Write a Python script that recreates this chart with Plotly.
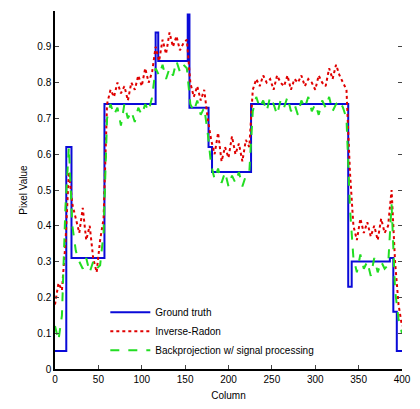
import plotly.graph_objects as go

# Ground truth breakpoints (piecewise constant)
gt_x = [0, 13, 19, 57, 116, 119, 153, 155, 177, 181, 226, 338, 342, 386, 390, 394, 400]
gt_y = [0.05, 0.62, 0.31, 0.74, 0.94, 0.86, 0.99, 0.73, 0.62, 0.55, 0.74, 0.23, 0.30, 0.31, 0.16, 0.05, 0.05]

# Reconstructions sampled every 4 columns
cols = list(range(0, 401, 4))
red_y = [0.18, 0.24, 0.22, 0.35, 0.55, 0.46, 0.42, 0.38, 0.45, 0.36,
         0.40, 0.31, 0.27, 0.36, 0.42, 0.74, 0.78, 0.76, 0.80, 0.77,
         0.79, 0.75, 0.80, 0.78, 0.82, 0.79, 0.84, 0.80, 0.83, 0.90,
         0.86, 0.92, 0.88, 0.94, 0.90, 0.93, 0.89, 0.91, 0.92, 0.80,
         0.76, 0.79, 0.75, 0.78, 0.70, 0.64, 0.60, 0.66, 0.58, 0.62,
         0.59, 0.65, 0.60, 0.63, 0.58, 0.64, 0.62, 0.78, 0.81, 0.79,
         0.82, 0.80, 0.81, 0.78, 0.82, 0.80, 0.79, 0.82, 0.78, 0.81,
         0.80, 0.82, 0.79, 0.81, 0.80, 0.78, 0.82, 0.80, 0.79, 0.84,
         0.81, 0.85, 0.82, 0.80, 0.78, 0.55, 0.40, 0.36, 0.42, 0.38,
         0.41, 0.37, 0.40, 0.36, 0.42, 0.38, 0.40, 0.50, 0.30, 0.18,
         0.12]
green_y = [0.12, 0.08, 0.15, 0.45, 0.62, 0.40, 0.33, 0.30, 0.28, 0.31,
           0.27, 0.30, 0.28, 0.29, 0.38, 0.70, 0.74, 0.71, 0.73, 0.68,
           0.74, 0.70, 0.72, 0.69, 0.73, 0.71, 0.74, 0.72, 0.76, 0.84,
           0.82, 0.85, 0.81, 0.84, 0.82, 0.86, 0.83, 0.85, 0.84, 0.74,
           0.72, 0.75, 0.71, 0.73, 0.66, 0.57, 0.53, 0.56, 0.52, 0.55,
           0.51, 0.54, 0.52, 0.55, 0.51, 0.54, 0.55, 0.72, 0.76, 0.73,
           0.75, 0.72, 0.76, 0.74, 0.71, 0.75, 0.73, 0.76, 0.72, 0.74,
           0.71, 0.75, 0.73, 0.76, 0.72, 0.74, 0.71, 0.75, 0.73, 0.76,
           0.72, 0.74, 0.75, 0.73, 0.70, 0.45, 0.31, 0.27, 0.32, 0.28,
           0.30, 0.26, 0.31, 0.27, 0.30, 0.28, 0.29, 0.46, 0.22, 0.14,
           0.10]

names = ["Ground truth", "Inverse-Radon", "Backprojection w/ signal processing"]
x_ticks = [0, 50, 100, 150, 200, 250, 300, 350, 400]
y_ticks = [0, 0.1, 0.2, 0.3, 0.4, 0.5, 0.6, 0.7, 0.8, 0.9]
y_tick_text = ["0", "0.1", "0.2", "0.3", "0.4", "0.5", "0.6", "0.7", "0.8", "0.9"]

fig = go.Figure()
fig.add_trace(go.Scatter(x=gt_x, y=gt_y, mode="lines", line_shape="hv",
                         line=dict(color="#0a0ad8", width=2), name=names[0]))
fig.add_trace(go.Scatter(x=cols, y=red_y, mode="lines",
                         line=dict(color="#e00000", width=2, dash="dot"), name=names[1]))
fig.add_trace(go.Scatter(x=cols, y=green_y, mode="lines",
                         line=dict(color="#22dd22", width=2, dash="dash"), name=names[2]))
fig.add_trace(go.Scatter(x=[], y=[], yaxis="y2", showlegend=False, hoverinfo="skip"))

font = dict(family="Liberation Sans, Arial, sans-serif", size=10, color="black")
fig.update_layout(
    width=420, height=409,
    margin=dict(l=55, r=9, t=11, b=37),
    paper_bgcolor="white", plot_bgcolor="white",
    font=font,
    showlegend=True,
    legend=dict(x=0.145, y=0.012, xanchor="left", yanchor="bottom",
                bgcolor="rgba(0,0,0,0)", font=dict(size=10, family=font["family"]),
                tracegroupgap=0, itemwidth=40),
    xaxis=dict(range=[0, 400], tickvals=x_ticks, ticks="inside", ticklen=4,
               showline=True, linecolor="black", linewidth=1.5, showgrid=False,
               zeroline=False, title=dict(text="Column", standoff=8,
                                          font=dict(size=10))),
    yaxis=dict(range=[0, 1.0], tickvals=y_ticks, ticktext=y_tick_text, ticks="inside",
               ticklen=4, showline=True, linecolor="black", linewidth=1.5,
               showgrid=False, zeroline=False,
               title=dict(text="Pixel Value", standoff=8, font=dict(size=10))),
    yaxis2=dict(range=[0, 1.0], overlaying="y", side="right", tickvals=y_ticks,
                ticks="inside", ticklen=4, showticklabels=False, showline=False,
                showgrid=False, zeroline=False),
)

fig.write_html("out.html")
